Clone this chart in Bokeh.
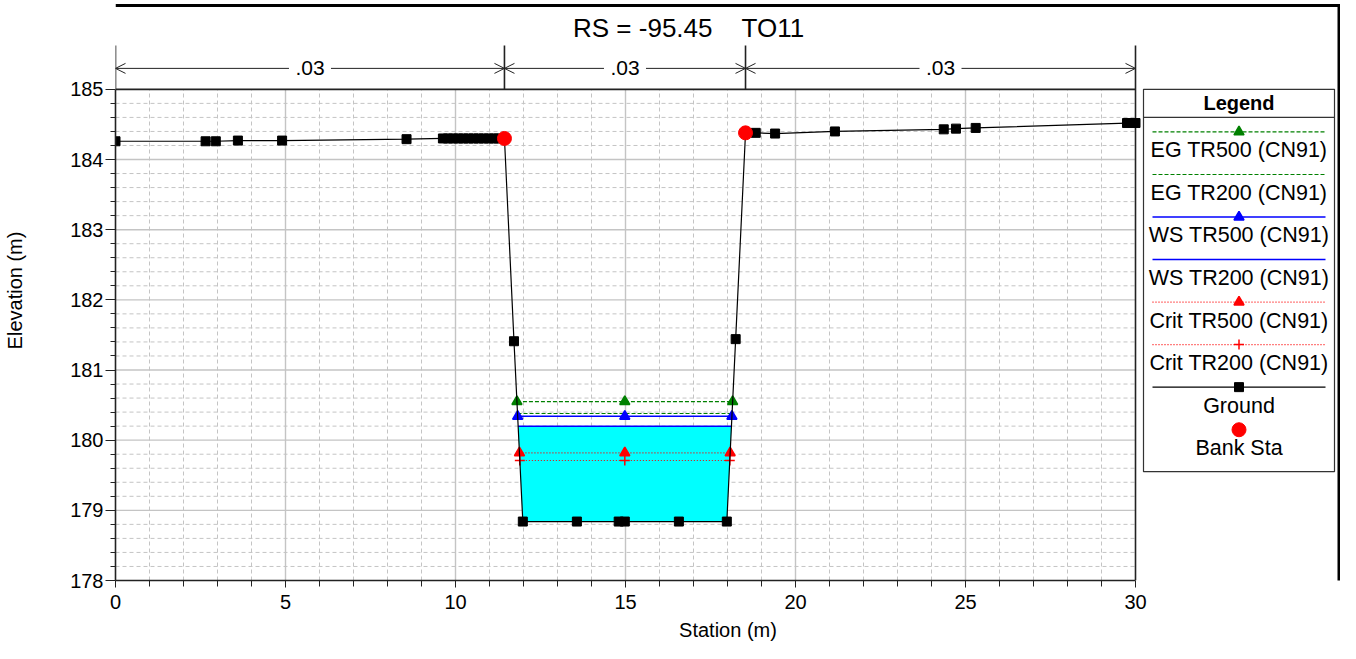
import numpy as np
from bokeh.plotting import figure
from bokeh.models import FixedTicker, Arrow, OpenHead, Range1d
from bokeh.embed import file_html
from bokeh.resources import INLINE
from bokeh.core.properties import value

# ---------------- data ----------------
title_rs = "RS = -95.45"
title_id = "TO11"
mann_n = [".03", ".03", ".03"]
bank_sta = [11.44, 18.53]

ground_x = [0.0, 2.65, 2.95, 3.6, 4.9, 8.56,
            9.63, 9.78, 9.93, 10.08, 10.23, 10.38, 10.53, 10.68, 10.83, 10.98, 11.13, 11.27,
            11.44, 11.72, 11.98, 13.57, 14.8, 14.98, 16.57, 17.98, 18.24,
            18.53, 18.83, 19.40, 21.16, 24.36, 24.72, 25.30, 29.75, 30.0]
ground_y = [184.26, 184.26, 184.26, 184.27, 184.27, 184.29,
            184.30, 184.30, 184.30, 184.30, 184.30, 184.30, 184.30, 184.30, 184.30, 184.30, 184.30, 184.30,
            184.30, 181.41, 178.84, 178.84, 178.84, 178.84, 178.84, 178.84, 181.44,
            184.38, 184.38, 184.37, 184.40, 184.43, 184.44, 184.45, 184.52, 184.52]

profile_names = ["EG TR500 (CN91)", "EG TR200 (CN91)", "WS TR500 (CN91)",
                 "WS TR200 (CN91)", "Crit TR500 (CN91)", "Crit TR200 (CN91)"]
profile_elev = [180.55, 180.38, 180.34, 180.20, 179.82, 179.71]

x_ticks = [0, 5, 10, 15, 20, 25, 30]
y_ticks = [178, 179, 180, 181, 182, 183, 184, 185]

# ---------------- styles ----------------
GREEN, BLUE, RED, CYAN = "#008000", "#0000ff", "#ff0000", "#00ffff"
prof_color = [GREEN, GREEN, BLUE, BLUE, RED, RED]
prof_dash = ["4 2", "4 2", "solid", "solid", "1 2", "1 2"]
prof_width = [1.2, 1.2, 1.5, 1.5, 1.2, 1.2]
prof_marker = ["triangle", None, "triangle", None, "triangle", "cross"]
FONT = value("Liberation Sans")

W, H = 1340, 643
ML, MB = 115, 62
FW, FH = W - ML, H - MB
PXX = 34.0            # px per metre of station
PXY = 492.0 / 7.0     # px per metre of elevation


def X(px):  # image pixel -> station
    return (px - 115) / PXX


def Y(py):  # image pixel -> elevation
    return 185 - (py - 89) / PXY


p = figure(width=W, height=H, x_range=Range1d(0, FW / PXX),
           y_range=Range1d(178, Y(0)),
           min_border_left=ML, min_border_right=0, min_border_top=0,
           min_border_bottom=MB, output_backend="svg", toolbar_location=None)
p.outline_line_color = None
p.grid.visible = False
p.background_fill_color = "white"
p.border_fill_color = "white"

# axes
xa, ya = p.xaxis[0], p.yaxis[0]
xa.bounds = (0, 30)
ya.bounds = (178, 185)
xa.ticker = FixedTicker(ticks=x_ticks, minor_ticks=[v for v in range(0, 31) if v % 5])
ya.ticker = FixedTicker(ticks=y_ticks,
                        minor_ticks=[round(178 + 0.2 * k, 1) for k in range(36) if k % 5])
for ax in (xa, ya):
    ax.axis_line_color = "#222222"
    ax.axis_line_width = 1.6
    ax.major_tick_line_color = "#222222"
    ax.minor_tick_line_color = "#222222"
    ax.major_tick_in = 0
    ax.minor_tick_in = 0
    ax.major_label_text_font = "Liberation Sans"
    ax.major_label_text_font_size = "20px"
    ax.major_label_text_color = "black"
    ax.axis_label_text_font = "Liberation Sans"
    ax.axis_label_text_font_size = "20px"
    ax.axis_label_text_font_style = "normal"
    ax.axis_label_text_color = "black"
xa.axis_label = "Station (m)"
ya.axis_label = "Elevation (m)"
xa.major_tick_out = 7
xa.minor_tick_out = 6
xa.major_label_standoff = 7
xa.axis_label_standoff = 7
ya.major_tick_out = 10
ya.minor_tick_out = 5
ya.major_label_standoff = 2
ya.axis_label_standoff = 41

# manual grid
GRID = "#c4c4c4"
mx = [v for v in range(1, 30) if v % 5]
p.segment(x0=mx, x1=mx, y0=178, y1=185, line_color=GRID, line_width=1, line_dash="4 3")
my = [round(178 + 0.2 * k, 1) for k in range(1, 35) if k % 5]
p.segment(x0=0, x1=30, y0=my, y1=my, line_color=GRID, line_width=1, line_dash="4 3")
Mx = x_ticks[1:-1]
p.segment(x0=Mx, x1=Mx, y0=178, y1=185, line_color=GRID, line_width=1.4)
My = y_ticks[1:-1]
p.segment(x0=0, x1=30, y0=My, y1=My, line_color=GRID, line_width=1.4)

# frame lines / n-value area
top_n = Y(45)
p.segment(x0=[0, 0, 30], x1=[30, 0, 30], y0=[185, 185, 178], y1=[185, top_n, top_n],
          line_color="#222222", line_width=1.6)
p.segment(x0=bank_sta, x1=bank_sta, y0=185, y1=top_n, line_color="#222222", line_width=1.6)

bounds = [0.0] + bank_sta + [30.0]
y_arrow = Y(68)
gap = 21 / PXX
mids = [(bounds[i] + bounds[i + 1]) / 2 for i in range(3)]
for i in range(3):
    for (xs, xe) in ((mids[i] - gap, bounds[i]), (mids[i] + gap, bounds[i + 1])):
        p.add_layout(Arrow(end=OpenHead(size=10, line_width=1, line_color="#222222"),
                           x_start=xs, y_start=y_arrow, x_end=xe, y_end=y_arrow,
                           line_color="#222222", line_width=1))
p.text(x=mids, y=[y_arrow] * 3, text=mann_n, text_font=FONT, text_font_size=value("21px"),
       text_align="center", text_baseline="middle", text_color="black")

# water extents
gx = np.array(ground_x)
gy = np.array(ground_y)
i0 = int(np.searchsorted(gx, bank_sta[0]))
i1 = int(np.searchsorted(gx, bank_sta[1]))


def wet(level):
    xl = xr = None
    il = ir = None
    for i in range(i0, i1):
        if gy[i] >= level > gy[i + 1]:
            xl = gx[i] + (gy[i] - level) / (gy[i] - gy[i + 1]) * (gx[i + 1] - gx[i])
            il = i + 1
            break
    for i in range(i1, i0, -1):
        if gy[i] >= level > gy[i - 1]:
            xr = gx[i - 1] + (level - gy[i - 1]) / (gy[i] - gy[i - 1]) * (gx[i] - gx[i - 1])
            ir = i - 1
            break
    return xl, xr, il, ir


# cyan fill under WS TR200
ws_idx = profile_names.index("WS TR200 (CN91)")
lv = profile_elev[ws_idx]
xl, xr, il, ir = wet(lv)
px_fill = [xl] + list(gx[il:ir + 1]) + [xr]
py_fill = [lv] + list(gy[il:ir + 1]) + [lv]
p.patch(px_fill, py_fill, fill_color=CYAN, line_color=None)

# profile lines
for k, (name, lv) in enumerate(zip(profile_names, profile_elev)):
    xl, xr, _, _ = wet(lv)
    p.line([xl, xr], [lv, lv], line_color=prof_color[k], line_width=prof_width[k],
           line_dash=prof_dash[k])
for k, (name, lv) in enumerate(zip(profile_names, profile_elev)):
    xl, xr, _, _ = wet(lv)
    if prof_marker[k]:
        p.scatter([xl, (xl + xr) / 2, xr], [lv] * 3, marker=prof_marker[k], size=10,
                  fill_color=prof_color[k], line_color=prof_color[k], line_width=1.5)

# ground
p.line(ground_x, ground_y, line_color="black", line_width=1.2)
p.scatter(ground_x, ground_y, marker="square", size=9, fill_color="black", line_color="black")
bank_y = list(np.interp(bank_sta, gx, gy))
p.scatter(bank_sta, bank_y, marker="circle", size=14, fill_color=RED, line_color=RED)

# title
p.text(x=[X(712)], y=[Y(28)], text=[title_rs], text_font=FONT, text_font_size=value("26px"),
       text_align="right", text_baseline="middle", text_color="black")
p.text(x=[X(741)], y=[Y(28)], text=[title_id], text_font=FONT, text_font_size=value("26px"),
       text_align="left", text_baseline="middle", text_color="black")

# outer border (top and right)
p.segment(x0=[0, X(1338.5)], x1=[X(1340), X(1338.5)], y0=[Y(5), Y(5)], y1=[Y(5), 178 - 5],
          line_color="black", line_width=3)

# legend
LL, LR, LT, LB = X(1143), X(1334), Y(89), Y(472)
p.quad(left=[LL], right=[LR], top=[LT], bottom=[LB], fill_color="white",
       line_color="#333333", line_width=1.2)
lc = (LL + LR) / 2
p.text(x=[lc], y=[Y(103)], text=["Legend"], text_font=FONT, text_font_size=value("20px"),
       text_font_style="bold", text_align="center", text_baseline="middle", text_color="black")
p.segment(x0=[LL], x1=[LR], y0=[Y(117)], y1=[Y(117)], line_color="#333333", line_width=1.2)
lx0, lx1 = X(1152), X(1325)
step = 42.6
for k, name in enumerate(profile_names):
    yl = Y(131.7 + step * k)
    yt = Y(150.2 + step * k)
    p.line([lx0, lx1], [yl, yl], line_color=prof_color[k], line_width=prof_width[k],
           line_dash=prof_dash[k])
    if prof_marker[k]:
        p.scatter([lc], [yl], marker=prof_marker[k], size=10, fill_color=prof_color[k],
                  line_color=prof_color[k], line_width=1.5)
    p.text(x=[lc], y=[yt], text=[name], text_font=FONT, text_font_size=value("21.5px"),
           text_align="center", text_baseline="middle", text_color="black")
k = len(profile_names)
yl = Y(131.7 + step * k)
p.line([lx0, lx1], [yl, yl], line_color="black", line_width=1.2)
p.scatter([lc], [yl], marker="square", size=9, fill_color="black", line_color="black")
p.text(x=[lc], y=[Y(150.2 + step * k)], text=["Ground"], text_font=FONT,
       text_font_size=value("21.5px"), text_align="center", text_baseline="middle",
       text_color="black")
p.scatter([lc], [Y(430)], marker="circle", size=14, fill_color=RED, line_color=RED)
p.text(x=[lc], y=[Y(448.5)], text=["Bank Sta"], text_font=FONT, text_font_size=value("21.5px"),
       text_align="center", text_baseline="middle", text_color="black")

open("out.html", "w").write(file_html(p, INLINE))
